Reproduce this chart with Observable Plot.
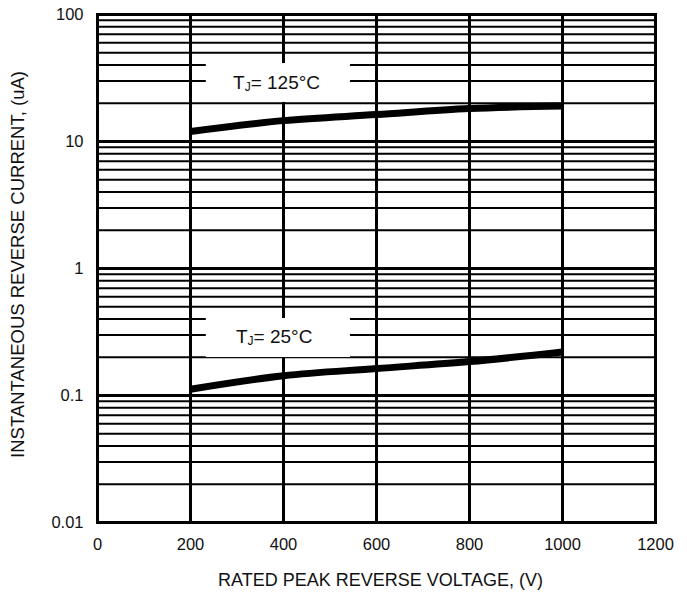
<!DOCTYPE html>
<html><head><meta charset="utf-8">
<script src="https://cdn.jsdelivr.net/npm/d3@7"></script>
<script src="https://cdn.jsdelivr.net/npm/@observablehq/plot@0.6"></script>
<style>body{margin:0;background:#fff}</style>
</head><body><div id="chart"></div>
<script>
const voltage = [200, 400, 600, 800, 1000];
const current125 = [12.0, 14.6, 16.3, 18.2, 19.0];
const current25 = [0.112, 0.143, 0.163, 0.185, 0.22];
const xTicks = [0, 200, 400, 600, 800, 1000, 1200];
const yTickLabels = [0.01, 0.1, 1, 10, 100];
const labelText = ["125°C", "25°C"];
const labelX = [385, 380];
const labelY = [29, 0.29];
const boxX1 = [234, 234];
const boxX2 = [544, 544];
const boxY1 = [20.3, 0.199];
const boxY2 = [41.1, 0.404];
const xTitle = "RATED PEAK REVERSE VOLTAGE, (V)";
const yTitle = "INSTANTANEOUS REVERSE CURRENT, (uA)";

const series = [
  ...voltage.map((v, i) => ({v, c: current125[i], s: "125"})),
  ...voltage.map((v, i) => ({v, c: current25[i], s: "25"}))
];
const labels = labelText.map((t, i) => ({t, x: labelX[i], y: labelY[i], x1: boxX1[i], x2: boxX2[i], y1: boxY1[i], y2: boxY2[i]}));

const minor = [];
for (let d = -2; d <= 1; d++) for (let k = 2; k <= 9; k++) minor.push(k * Math.pow(10, d));

const chart = Plot.plot({
  width: 687, height: 594,
  marginLeft: 97, marginRight: 32, marginTop: 14, marginBottom: 72,
  x: {domain: [0, 1200]},
  y: {type: "log", domain: [0.01, 100]},
  style: {fontFamily: "Liberation Sans, Arial, sans-serif", fontSize: "14px", background: "white", color: "#111"},
  marks: [
    Plot.ruleY(minor, {stroke: "#000", strokeWidth: 2}),
    Plot.ruleY(yTickLabels, {stroke: "#000", strokeWidth: 3}),
    Plot.ruleX(xTicks.slice(1, -1), {stroke: "#000", strokeWidth: 3}),
    Plot.rect(labels, {x1: "x1", x2: "x2", y1: "y1", y2: "y2", fill: "white"}),
    Plot.line(series, {x: "v", y: "c", z: "s", stroke: "#000", strokeWidth: 7, curve: "monotone-x", strokeLinecap: "butt"}),
    Plot.text(labels, {x: "x", y: "y", text: "t", fontSize: 19, fill: "#111", className: "tjlabel"}),
    Plot.frame({stroke: "#000", strokeWidth: 3}),
    Plot.axisY({ticks: yTickLabels, tickSize: 0, tickPadding: 14, tickFormat: d => String(d), fontSize: 16.5,
      label: null}),
    Plot.axisX({ticks: xTicks, tickSize: 0, tickPadding: 16, tickFormat: d => String(d), fontSize: 16.5,
      label: null}),
    Plot.text([xTitle], {frameAnchor: "bottom", text: d => d, textAnchor: "middle", lineAnchor: "middle", dy: 58, dx: 4, fontSize: 18, fill: "#111"}),
    Plot.text([yTitle], {frameAnchor: "left", text: d => d, textAnchor: "middle", lineAnchor: "middle", dx: -79, dy: -4, rotate: -90, fontSize: 18.5, fill: "#111"})
  ]
});
document.getElementById("chart").appendChild(chart);
d3.select(chart).selectAll(".tjlabel text").each(function() {
  const t = this.textContent;
  const s = d3.select(this);
  s.text(null);
  s.append("tspan").text("T");
  s.append("tspan").attr("font-size", 12).attr("dy", 2).text("J");
  s.append("tspan").attr("dy", -2).text("= " + t);
});
</script>
</body></html>
